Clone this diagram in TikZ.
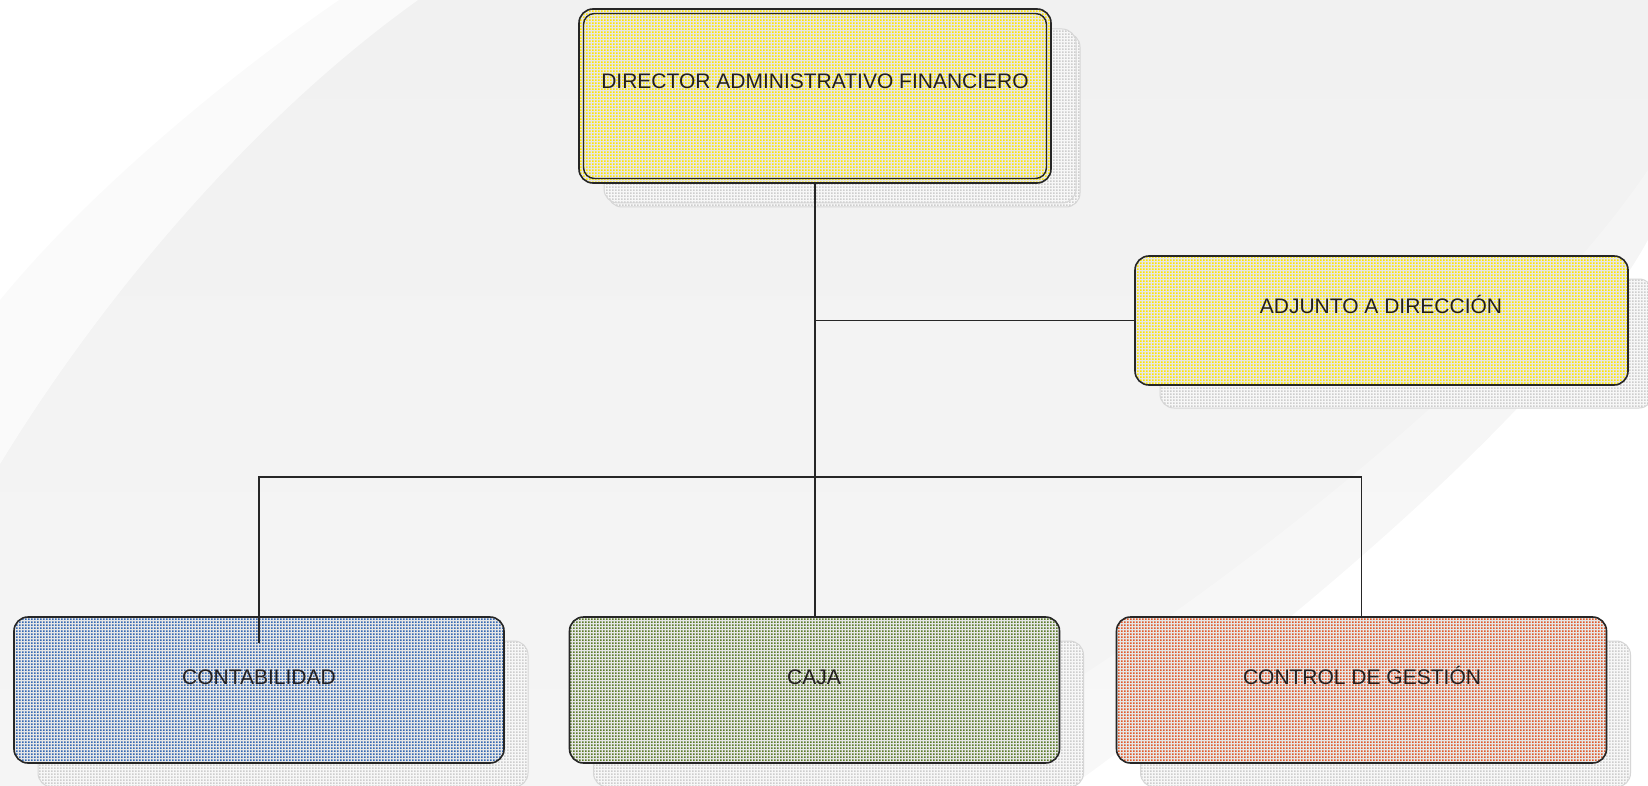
\documentclass[tikz,border=0pt]{standalone}
\usepackage{fontspec}
\setmainfont{Liberation Sans}
\usetikzlibrary{patterns.meta,calc}
\definecolor{ink}{HTML}{231F20}
\definecolor{edge}{HTML}{262626}
\definecolor{base}{HTML}{E6E6E6}
\definecolor{ydot}{HTML}{FFE600}
\definecolor{bdot}{HTML}{3568B2}
\definecolor{gdot}{HTML}{5A7A28}
\definecolor{odot}{HTML}{E0592A}
\definecolor{sdot}{HTML}{CDCDCD}
\definecolor{sbase}{HTML}{F7F7F7}
\definecolor{sline}{HTML}{D6D6D6}
\definecolor{bgtop}{HTML}{F1F1F1}
\definecolor{bgmid}{HTML}{EDEDED}
\definecolor{bgbot}{HTML}{F5F5F5}
\tikzdeclarepattern{
  name=sqdots,
  type=uncolored,
  bottom left={(0pt,0pt)},
  top right={(3.3pt,3.3pt)},
  tile size={(3.3pt,3.3pt)},
  code={\fill (0pt,0pt) rectangle (2.1pt,2.1pt);}
}
\pgfdeclarelayer{bg}
\pgfsetlayers{bg,main}
\tikzset{
  box/.style={draw=edge, line width=1.6pt, rounded corners=14pt, inner sep=0pt, outer sep=0pt,
    preaction={fill=base}, pattern=sqdots, pattern color=#1},
  innerline/.style={draw=edge, line width=1.4pt, rounded corners=11pt},
  shadowbox/.style={draw=sline, line width=1pt, rounded corners=14pt,
    preaction={fill=sbase}, pattern=sqdots, pattern color=sdot},
  lbl/.style={font=\fontsize{21pt}{25pt}\selectfont, text=ink, inner sep=0pt, anchor=base},
  conn/.style={draw=edge, line width=1.5pt},
  trunk/.style={draw=edge, line width=2pt}
}
\begin{document}
\begin{tikzpicture}[x=1pt,y=-1pt]
\useasboundingbox (0,0) rectangle (1648,786);
% boxes
\node[box=ydot, minimum width=472pt, minimum height=174pt] (dir) at (815,96) {};
\draw[innerline] ([shift={(4.5,4.5)}]dir.north west) rectangle ([shift={(-4.5,-4.5)}]dir.south east);
\node[box=ydot, minimum width=493pt, minimum height=129pt] (adj) at (1381.5,320.5) {};
\node[box=bdot, minimum width=490pt, minimum height=146pt] (conta) at (259,690) {};
\node[box=gdot, minimum width=490pt, minimum height=146pt] (caja) at (814.5,690) {};
\node[box=odot, minimum width=490pt, minimum height=146pt] (ctrl) at (1361.5,690) {};
% labels
\node[lbl] (dirtxt) at (815,89) {DIRECTOR ADMINISTRATIVO FINANCIERO};
\node[lbl] (adjtxt) at (1381,313) {ADJUNTO A DIRECCIÓN};
\node[lbl] (contatxt) at (259,684) {CONTABILIDAD};
\node[lbl] (cajatxt) at (814,684) {CAJA};
\node[lbl] (ctrltxt) at (1362,684) {CONTROL DE GESTIÓN};
% connectors
\coordinate (bus) at (815,477);
\draw[trunk] (dir.south) -- (dir.south |- bus);
\draw[conn] (dir.south |- bus) -- (dir.south |- caja.north);
\draw[conn] (dir.south |- adj.west) -- (adj.west);
\draw[conn] ($(conta.north)+(0,26)$) -- (conta.north |- bus) -- (ctrl.north |- bus) -- (ctrl.north);
% background and shadows
\begin{pgfonlayer}{bg}
\shade[top color=bgtop, middle color=bgmid, bottom color=bgbot] (0,0) rectangle (1648,786);
\fill[white, opacity=.65] (0,0) -- (418,0) .. controls (250,120) and (100,300) .. (0,464) -- cycle;
\fill[white] (0,0) -- (339,0) .. controls (230,75) and (90,190) .. (0,300) -- cycle;
\fill[white, opacity=.3] (1648,170) .. controls (1520,360) and (1200,620) .. (900,786) -- (1648,786) -- cycle;
\fill[white] (1648,240) .. controls (1560,400) and (1300,620) .. (1072,786) -- (1648,786) -- cycle;
\path[shadowbox] ([shift={(29,24)}]dir.north west) rectangle ([shift={(29,24)}]dir.south east);
\path[shadowbox] ([shift={(25,20)}]dir.north west) rectangle ([shift={(25,20)}]dir.south east);
\path[shadowbox] ([shift={(25,23)}]adj.north west) rectangle ([shift={(25,23)}]adj.south east);
\path[shadowbox] ([shift={(24,24)}]conta.north west) rectangle ([shift={(24,24)}]conta.south east);
\path[shadowbox] ([shift={(24,24)}]caja.north west) rectangle ([shift={(24,24)}]caja.south east);
\path[shadowbox] ([shift={(24,24)}]ctrl.north west) rectangle ([shift={(24,24)}]ctrl.south east);
\end{pgfonlayer}
\end{tikzpicture}
\end{document}
